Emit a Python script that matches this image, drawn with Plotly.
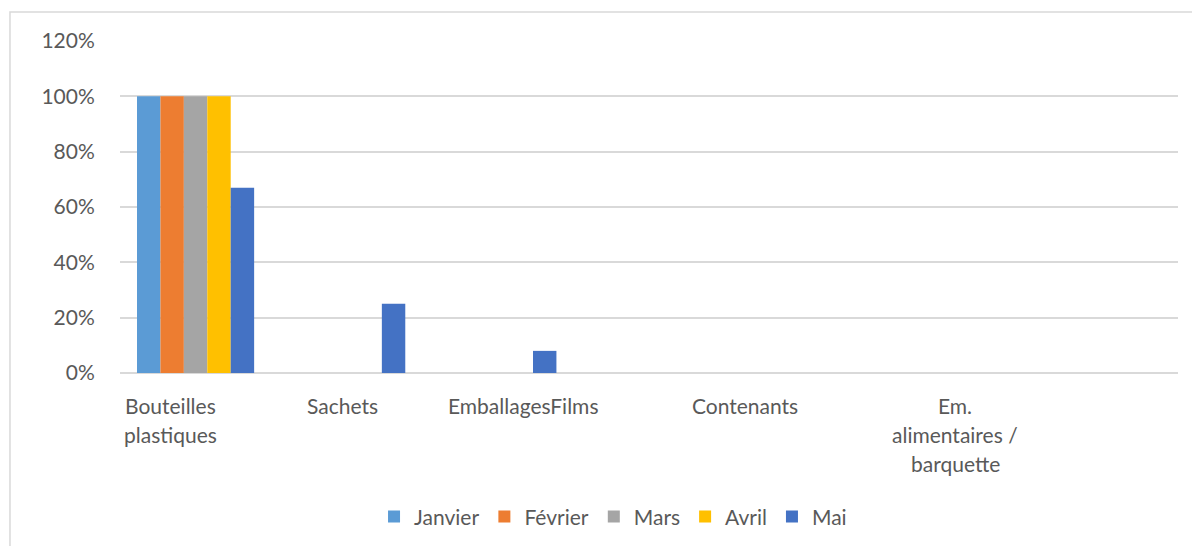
import plotly.graph_objects as go

categories = ["Bouteilles plastiques", "Sachets", "Emballages", "Films",
              "Contenants", "Em. alimentaires / barquette", "Autres"]
label_lines = [["Bouteilles", "plastiques"], ["Sachets"], ["EmballagesFilms"], [""],
               ["Contenants"], ["Em.", "alimentaires /", "barquette"], [""]]
label_xshift = [-25, -4, 25, 0, -55, 4, 0]

months = ["Janvier", "Février", "Mars", "Avril", "Mai"]
janvier = [1.00, 0, 0, 0, 0, 0, 0]
fevrier = [1.00, 0, 0, 0, 0, 0, 0]
mars = [1.00, 0, 0, 0, 0, 0, 0]
avril = [1.00, 0, 0, 0, 0, 0, 0]
mai = [0.67, 0.25, 0.08, 0, 0, 0, 0]
series = [janvier, fevrier, mars, avril, mai]
colors = ["#5B9BD5", "#ED7D31", "#A5A5A5", "#FFC000", "#4472C4"]

FONT = "Lato"
TXT = "#595959"
FS = 21

fig = go.Figure()
for name, vals, col in zip(months, series, colors):
    fig.add_trace(go.Bar(x=list(range(len(categories))), y=vals, name=name,
                         marker=dict(color=col, line=dict(width=0))))

annotations = []
for i, lines in enumerate(label_lines):
    for j, line in enumerate(lines):
        if not line:
            continue
        annotations.append(dict(x=i, xref="x", y=0, yref="paper", yanchor="middle",
                                xanchor="center", yshift=-32 - 29 * j,
                                xshift=label_xshift[i], text=line, showarrow=False,
                                font=dict(family=FONT, size=FS, color=TXT)))

fig.update_layout(
    width=1200, height=546,
    margin=dict(l=112, r=30, t=33, b=181, pad=0),
    paper_bgcolor="white", plot_bgcolor="white",
    barmode="group", bargap=0.225, bargroupgap=0,
    font=dict(family=FONT, size=FS, color=TXT),
    xaxis=dict(range=[-0.5, 6.5], showticklabels=False, showgrid=False,
               zeroline=False, showline=False, ticks=""),
    yaxis=dict(range=[0, 1.2], dtick=0.2, tickformat=".0%", showgrid=True,
               gridcolor="#D9D9D9", gridwidth=1.5, zeroline=True,
               zerolinecolor="#D9D9D9", zerolinewidth=1.5, showline=False,
               ticks="outside", ticklen=20, tickcolor="rgba(0,0,0,0)",
               tickfont=dict(family=FONT, size=FS, color=TXT)),
    legend=dict(orientation="h", x=0.466, xanchor="center", y=-0.433,
                yanchor="middle", font=dict(family=FONT, size=FS, color=TXT),
                itemclick=False, tracegroupgap=0),
    annotations=annotations,
    shapes=[dict(type="rect", xref="paper", yref="paper", x0=-0.104, x1=1.2,
                 y0=-1.0, y1=1.087, line=dict(color="#D9D9D9", width=1.5),
                 fillcolor="rgba(0,0,0,0)", layer="below")],
)

fig.write_html("out.html")
